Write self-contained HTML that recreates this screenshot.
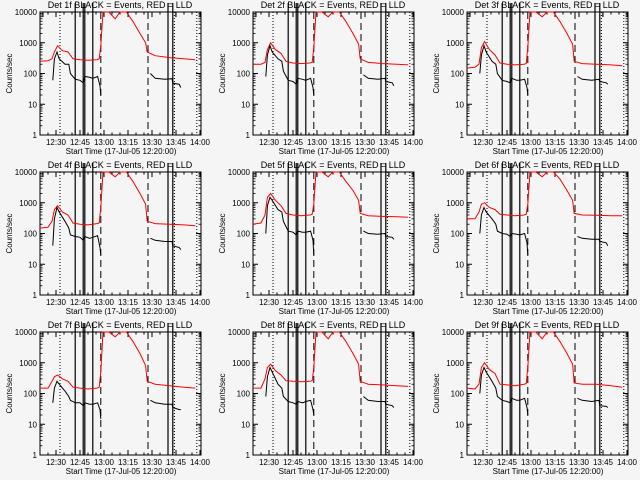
<!DOCTYPE html>
<html><head><meta charset="utf-8"><style>
html,body{margin:0;padding:0;background:#f5f5f5;}
svg{display:block;font-family:"Liberation Sans",sans-serif;}
</style></head><body>
<svg id="chart" width="640" height="480" viewBox="0 0 640 480">
<rect width="640" height="480" fill="#f5f5f5"/>
</svg>
<script>
const detNames = ["1f","2f","3f","4f","5f","6f","7f","8f","9f"];
const tickLabels = ["12:30","12:45","13:00","13:15","13:30","13:45","14:00"];
const tickMinutes = [10,25,40,55,70,85,100];
const yTickValues = [1,10,100,1000,10000];
const yTickLabels = ["1","10","100","1000","10000"];
const redT = [0,5,7.5,9,11,14,17.5,20.6,25,30,35.6,37,38,39.4,43,47,50,54,58,62.5,66,67,72,81,90,97];
const blackT = [8,9,10.6,12,15.6,18,19,22,25,27,28,31,33,36,37.5,38,null,69,72,78,82.5,83,87,88];
const dottedT = [12.5,84,98];
const solidT = [22,27,28,33,80,83];
const dashedT = [38,67.5];
const red1 = [250,260,300,500,800,550,500,300,280,270,280,300,800,10000,14000,6000,14000,14000,5000,2000,1000,500,380,330,300,280];
const red2 = [200,200,230,600,1000,600,450,250,220,210,220,230,700,10000,14000,7000,14000,14000,5000,2000,900,300,230,210,200,190];
const red3 = [150,160,200,700,1100,600,400,220,200,190,200,210,700,10000,14000,7000,14000,14000,5000,2000,900,250,210,200,190,180];
const red4 = [150,160,250,600,800,500,400,220,200,190,210,220,700,10000,14000,7000,14000,14000,5000,2000,900,250,210,200,190,180];
const red5 = [200,220,400,1500,2000,1200,800,450,400,380,400,420,900,10000,14000,7000,14000,14000,5000,2500,1200,450,380,360,350,340];
const red6 = [300,300,500,900,1000,700,600,420,400,380,400,420,900,10000,14000,7000,14000,14000,6000,2500,1200,450,400,390,380,380];
const red7 = [150,150,250,350,400,300,250,160,150,140,150,160,500,10000,14000,7000,14000,14000,5000,2000,800,250,200,180,160,150];
const red8 = [150,150,300,700,900,550,400,260,250,240,250,260,700,10000,14000,6000,14000,14000,5000,2000,900,250,200,190,180,170];
const red9 = [150,140,200,700,1000,600,450,200,190,180,200,210,700,10000,14000,6000,14000,14000,5000,2000,900,220,200,200,180,160];
const black1 = [60,300,500,300,200,200,100,65,60,50,80,75,70,80,40,20,null,100,70,65,68,48,45,35];
const black2 = [80,400,800,500,300,250,120,60,55,45,70,65,60,70,35,20,null,90,70,65,70,55,50,40];
const black3 = [100,400,800,500,250,200,100,60,55,50,70,60,60,65,35,20,null,80,65,60,65,55,50,45];
const black4 = [40,300,700,500,250,150,90,80,75,60,80,70,75,85,35,20,null,70,60,55,55,40,35,30];
const black5 = [100,800,1500,1200,600,500,250,120,110,90,120,110,110,120,60,20,null,120,100,95,100,80,75,65];
const black6 = [100,400,700,500,300,200,120,100,95,80,100,95,90,100,50,20,null,80,70,65,65,55,50,40];
const black7 = [50,150,250,200,120,80,60,50,50,40,50,45,45,50,30,15,null,60,50,45,45,35,30,30];
const black8 = [80,350,700,500,200,150,80,55,50,45,55,50,55,60,30,20,null,80,60,55,55,45,40,35];
const black9 = [100,400,700,500,250,150,80,60,55,50,70,60,60,70,35,20,null,70,60,55,60,40,38,35];
const reds = [red1,red2,red3,red4,red5,red6,red7,red8,red9];
const blacks = [black1,black2,black3,black4,black5,black6,black7,black8,black9];

const NS = "http://www.w3.org/2000/svg";
const svg = document.getElementById("chart");
function mk(tag, attrs, parent){
  const e = document.createElementNS(NS, tag);
  for (const k in attrs) e.setAttribute(k, attrs[k]);
  parent.appendChild(e);
  return e;
}
const L=40, R=201, T=12, B=135;
function xs(t){ return L + t*1.6; }
function ys(v){ const c=Math.min(Math.max(v,1),10000); return B - Math.log10(c)*(B-T)/4; }

for (let p=0;p<9;p++){
  const ox = Math.round((p%3)*213.33), oy = Math.floor(p/3)*160;
  const g = mk("g",{transform:`translate(${ox},${oy})`},svg);
  
  
  // box
  const box = mk("rect",{x:L,y:T,width:R-L,height:B-T,fill:"none",stroke:"#000","stroke-width":1},g);
  
  
  // y ticks
  for (let i=0;i<yTickValues.length;i++){
    const y = ys(yTickValues[i]);
    mk("line",{x1:L,x2:L+5,y1:y,y2:y,stroke:"#000"},g);
    mk("line",{x1:R-5,x2:R,y1:y,y2:y,stroke:"#000"},g);
    const tx = mk("text",{x:L-3,y:y+3,"text-anchor":"end","font-size":8,fill:"#000"},g);
    tx.textContent = yTickLabels[i];
    
    
    if (i<yTickValues.length-1){
      for (let m=2;m<10;m++){
        const ym = ys(yTickValues[i]*m);
        mk("line",{x1:L,x2:L+2.5,y1:ym,y2:ym,stroke:"#000","stroke-width":0.8},g);
        mk("line",{x1:R-2.5,x2:R,y1:ym,y2:ym,stroke:"#000","stroke-width":0.8},g);
      }
    }
  }
  // x ticks
  for (let m=5;m<=100;m+=5){
    const x=xs(m), len = (m%15===10)?5:2.5;
    mk("line",{x1:x,x2:x,y1:B,y2:B-len,stroke:"#000"},g);
    mk("line",{x1:x,x2:x,y1:T,y2:T+len,stroke:"#000"},g);
  }
  for (let i=0;i<tickLabels.length;i++){
    const tx = mk("text",{x:xs(tickMinutes[i]),y:B+10,"text-anchor":"middle","font-size":8,fill:"#000"},g);
    tx.textContent = tickLabels[i];
    
    
  }
  const xt = mk("text",{x:121,y:B+19,"text-anchor":"middle","font-size":8,fill:"#000"},g);
  xt.textContent = "Start Time (17-Jul-05 12:20:00)";
  
  
  const yt = mk("text",{x:0,y:0,"text-anchor":"middle","font-size":8,fill:"#000",transform:`translate(12,${(T+B)/2}) rotate(-90)`},g);
  yt.textContent = "Counts/sec";
  
  
  const tt = mk("text",{x:120,y:8,"text-anchor":"middle","font-size":9,fill:"#000"},g);
  tt.textContent = "Det "+detNames[p]+" BLACK = Events, RED = LLD";
  
  
  // markers
  for (const t of dottedT){
    const l = mk("line",{x1:xs(t),x2:xs(t),y1:T,y2:B,stroke:"#000","stroke-dasharray":"1 2"},g);
    
    
  }
  for (const t of solidT){
    const l = mk("line",{x1:xs(t),x2:xs(t),y1:3,y2:B,stroke:"#000","stroke-width":1.2},g);
    
    
  }
  for (const t of dashedT){
    const l = mk("line",{x1:xs(t),x2:xs(t),y1:T,y2:B,stroke:"#000","stroke-dasharray":"7 4"},g);
    
    
  }
  mk("polyline",{points:`${L+3},${T+5} ${L+3},${T} ${L+10},${T}`,fill:"none",stroke:"#000"},g);
  mk("polyline",{points:`${xs(83)+3},${T+5} ${xs(83)+3},${T} ${xs(83)+10},${T}`,fill:"none",stroke:"#000"},g);
  // series
  const rp = redT.map((t,i)=>xs(t).toFixed(1)+","+ys(reds[p][i]).toFixed(1)).join(" ");
  const rl = mk("polyline",{points:rp,fill:"none",stroke:"#ff0000","stroke-width":1},g);
  
  
  let segs=[], cur=[];
  blackT.forEach((t,i)=>{
    const v = blacks[p][i];
    if (t===null || v===null){ if(cur.length) segs.push(cur); cur=[]; return; }
    cur.push(xs(t).toFixed(1)+","+ys(v).toFixed(1));
  });
  if(cur.length) segs.push(cur);
  for (const s of segs){
    const bl = mk("polyline",{points:s.join(" "),fill:"none",stroke:"#000","stroke-width":1},g);
    
    
  }
}
</script>
</body></html>
